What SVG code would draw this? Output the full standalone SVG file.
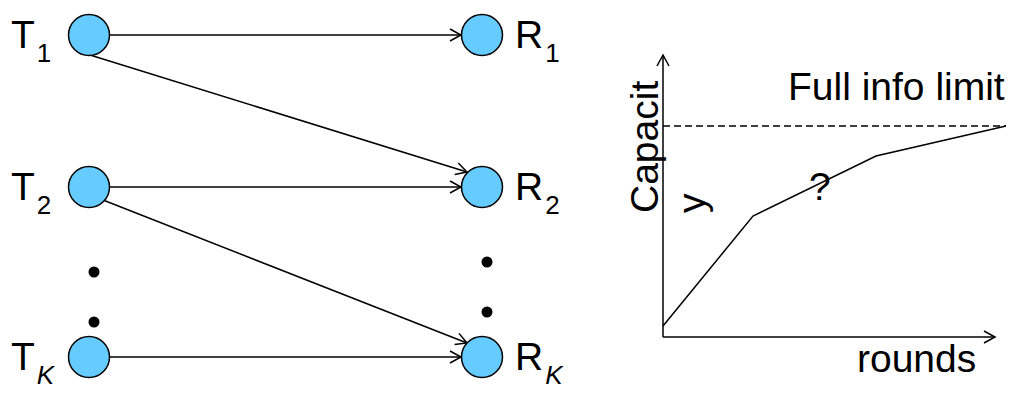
<svg xmlns="http://www.w3.org/2000/svg" width="1013" height="394" viewBox="0 0 1013 394">
<style>
.node{fill:#66ccff;stroke:#000;stroke-width:1.5}
.edge{stroke:#000;stroke-width:1.5;fill:none}
.lbl{font-family:"Liberation Sans",Arial,sans-serif;font-size:39px;fill:#000}
.sub{font-size:26px}
.big{font-family:"Liberation Sans",Arial,sans-serif;font-size:39px;fill:#000}
.dot{fill:#000}
</style>
<defs>
<marker id="arr" markerUnits="userSpaceOnUse" markerWidth="14" markerHeight="14" refX="11" refY="6" orient="auto" overflow="visible">
<path d="M0,0 L11,6 L0,12" fill="none" stroke="#000" stroke-width="1.5"/>
</marker>
</defs>
<rect width="1013" height="394" fill="#fff"/>
<g id="connectors">
<line class="edge" x1="109" y1="35" x2="461" y2="35" marker-end="url(#arr)"/>
<line class="edge" x1="90" y1="55" x2="467" y2="172" marker-end="url(#arr)"/>
<line class="edge" x1="109" y1="187" x2="461" y2="187" marker-end="url(#arr)"/>
<line class="edge" x1="103" y1="200" x2="467" y2="343" marker-end="url(#arr)"/>
<line class="edge" x1="109" y1="357" x2="461" y2="357" marker-end="url(#arr)"/>
</g>
<g id="T1"><circle class="node" cx="89" cy="35" r="20.5"/><text class="lbl" x="11" y="48">T<tspan class="sub" dx="2" dy="14">1</tspan></text></g>
<g id="T2"><circle class="node" cx="89" cy="187" r="20.5"/><text class="lbl" x="11" y="200">T<tspan class="sub" dx="2" dy="14">2</tspan></text></g>
<g id="TK"><circle class="node" cx="89" cy="357" r="20.5"/><text class="lbl" x="11" y="370">T<tspan class="sub" dx="2" dy="14" font-style="italic">K</tspan></text></g>
<g id="R1"><circle class="node" cx="482" cy="35" r="20.5"/><text class="lbl" x="515" y="48">R<tspan class="sub" dx="2" dy="14">1</tspan></text></g>
<g id="R2"><circle class="node" cx="482" cy="187" r="20.5"/><text class="lbl" x="515" y="200">R<tspan class="sub" dx="2" dy="14">2</tspan></text></g>
<g id="RK"><circle class="node" cx="482" cy="357" r="20.5"/><text class="lbl" x="515" y="370">R<tspan class="sub" dx="2" dy="14" font-style="italic">K</tspan></text></g>
<g id="dots">
<circle class="dot" cx="94" cy="272" r="5.5"/>
<circle class="dot" cx="94" cy="322" r="5.5"/>
<circle class="dot" cx="487" cy="262" r="5.5"/>
<circle class="dot" cx="487" cy="312" r="5.5"/>
</g>
<g id="chart">
<line class="edge" x1="663" y1="337" x2="663" y2="55" marker-end="url(#arr)"/>
<line class="edge" x1="663" y1="337" x2="995" y2="337" marker-end="url(#arr)"/>
<line class="edge" x1="663" y1="126" x2="1006" y2="126" stroke-dasharray="7,4"/>
<polyline class="edge" points="663,326 753,216 876,156 1006,126"/>
<text class="big" x="788" y="100">Full info limit</text>
<text class="big" x="857" y="372">rounds</text>
<text class="big" transform="translate(658,213) rotate(-90)">Capacit</text>
<text class="big" transform="translate(705,213) rotate(-90)">y</text>
<text class="big" x="809" y="200" font-size="38">?</text>
</g>
</svg>
